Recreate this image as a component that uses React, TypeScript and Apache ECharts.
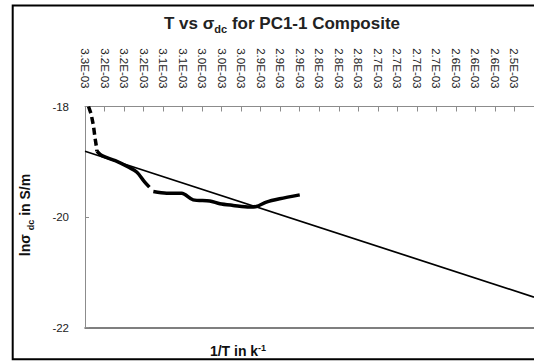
import React, { useEffect, useRef } from "react";
import * as echarts from "echarts";

// Top axis tick labels (1/T in K^-1), one per category position
const xLabels = [
  "3.3E-03", "3.2E-03", "3.2E-03", "3.2E-03", "3.1E-03", "3.1E-03",
  "3.0E-03", "3.0E-03", "3.0E-03", "2.9E-03", "2.9E-03", "2.9E-03",
  "2.8E-03", "2.8E-03", "2.8E-03", "2.7E-03", "2.7E-03", "2.7E-03",
  "2.7E-03", "2.6E-03", "2.6E-03", "2.6E-03", "2.5E-03", "",
];

// y range (ln sigma_dc)
const yMin = -22;
const yMax = -18;
const yStep = 2;

// Dashed start of the measured curve (x in category positions)
const dashX = [0.18, 0.31, 0.43, 0.51, 0.59, 0.61];
const dashY = [-18.0, -18.13, -18.34, -18.56, -18.74, -18.81];

// Measured curve, first solid piece
const seg1X = [0.61, 0.87, 1.55, 2.24, 2.66, 3.0, 3.3];
const seg1Y = [-18.81, -18.89, -18.98, -19.1, -19.19, -19.34, -19.46];

// Measured curve, second solid piece
const seg2X = [3.5, 4.18, 4.95, 5.54, 6.39, 6.91, 7.59, 8.44, 8.78, 9.29, 9.97, 11.0];
const seg2Y = [-19.54, -19.57, -19.57, -19.69, -19.71, -19.76, -19.79, -19.82, -19.81, -19.73, -19.67, -19.6];

// Linear trend line end points
const trendX = [0, 23];
const trendY = [-18.81, -21.45];

const zip = (xs: number[], ys: number[]) => xs.map((x, i) => [x, ys[i]]);

const FONT = "Liberation Sans";

export default function App() {
  const ref = useRef<HTMLDivElement>(null);

  useEffect(() => {
    document.body.style.margin = "0";
    if (!ref.current) return;
    const chart = echarts.init(ref.current, undefined, { renderer: "svg" });
    const lastIdx = xLabels.length - 1;

    const option: any = {
      animation: false,
      grid: { left: 85, right: 0, top: 106.5, bottom: 33.5, containLabel: false },
      xAxis: [
        {
          type: "value",
          position: "top",
          min: 0,
          max: lastIdx,
          interval: 1,
          axisLine: { show: true, onZero: false, lineStyle: { color: "#8c8c8c", width: 1 } },
          axisTick: { show: true, inside: true, length: 5, lineStyle: { color: "#8c8c8c" } },
          axisLabel: {
            rotate: 90,
            margin: 18,
            fontSize: 11.5,
            fontFamily: FONT,
            color: "#222",
            formatter: (v: number) => xLabels[Math.round(v)] ?? "",
          },
          splitLine: { show: false },
        },
        {
          type: "value",
          position: "bottom",
          min: 0,
          max: lastIdx,
          axisLine: { show: true, onZero: false, lineStyle: { color: "#555", width: 1.5 } },
          axisTick: { show: false },
          axisLabel: { show: false },
          splitLine: { show: false },
        },
      ],
      yAxis: {
        type: "value",
        min: yMin,
        max: yMax,
        interval: yStep,
        axisLine: { show: true, onZero: false, lineStyle: { color: "#8c8c8c", width: 1 } },
        axisTick: { show: true, inside: true, length: 4, lineStyle: { color: "#8c8c8c" } },
        axisLabel: { margin: 16, fontSize: 11.5, fontFamily: FONT, color: "#222" },
        splitLine: { show: false },
      },
      series: [
        {
          type: "line",
          xAxisIndex: 0,
          data: zip(trendX, trendY),
          showSymbol: false,
          symbol: "none",
          lineStyle: { color: "#000", width: 1.7 },
          z: 2,
        },
        {
          type: "line",
          xAxisIndex: 0,
          data: zip(dashX, dashY),
          showSymbol: false,
          symbol: "none",
          lineStyle: { color: "#000", width: 3.5, type: [7, 4] },
          z: 3,
        },
        {
          type: "line",
          xAxisIndex: 0,
          data: zip(seg1X, seg1Y),
          showSymbol: false,
          symbol: "none",
          smooth: 0.3,
          lineStyle: { color: "#000", width: 3.5 },
          z: 3,
        },
        {
          type: "line",
          xAxisIndex: 0,
          data: zip(seg2X, seg2Y),
          showSymbol: false,
          symbol: "none",
          smooth: 0.3,
          lineStyle: { color: "#000", width: 3.5 },
          z: 3,
        },
      ],
      graphic: [
        {
          type: "text",
          x: 282,
          y: 23,
          z: 10,
          style: {
            text: "T vs σ{s|dc} for PC1-1 Composite",
            fontFamily: FONT,
            fontSize: 17,
            fontWeight: "bold",
            fill: "#222",
            align: "center",
            verticalAlign: "middle",
            lineHeight: 22,
            rich: {
              s: { fontFamily: FONT, fontSize: 11, fontWeight: "bold", fill: "#222", lineHeight: 11, verticalAlign: "bottom" },
            },
          },
        },
        {
          type: "text",
          x: 25,
          y: 215,
          rotation: Math.PI / 2,
          z: 10,
          style: {
            text: "lnσ {s|dc} in S/m",
            fontFamily: FONT,
            fontSize: 14,
            fontWeight: "bold",
            fill: "#111",
            align: "center",
            verticalAlign: "middle",
            lineHeight: 20,
            rich: {
              s: { fontFamily: FONT, fontSize: 9, fontWeight: "bold", fill: "#111", lineHeight: 9, verticalAlign: "bottom" },
            },
          },
        },
        {
          type: "text",
          x: 238,
          y: 351,
          z: 10,
          style: {
            text: "1/T in k{p|-1}",
            fontFamily: FONT,
            fontSize: 14,
            fontWeight: "bold",
            fill: "#111",
            align: "center",
            verticalAlign: "middle",
            lineHeight: 16,
            rich: {
              p: { fontFamily: FONT, fontSize: 9, fontWeight: "bold", fill: "#111", lineHeight: 9, verticalAlign: "top" },
            },
          },
        },
        {
          type: "polyline",
          z: 21,
          shape: { points: [[540, 5.5], [12.7, 5.5], [12.7, 359.3], [540, 359.3]] },
          style: { stroke: "#000", lineWidth: 2, fill: null },
        },
      ],
    };

    chart.setOption(option);
    return () => chart.dispose();
  }, []);

  return <div ref={ref} style={{ width: 534, height: 361 }} />;
}
